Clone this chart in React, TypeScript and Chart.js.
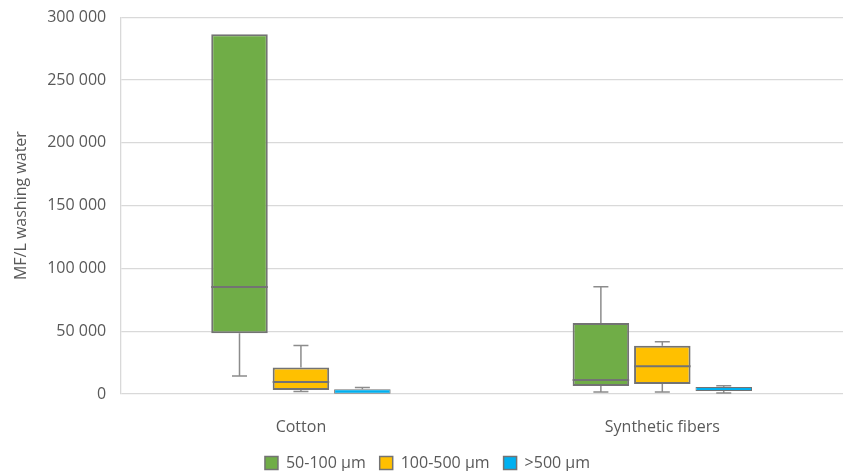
import React, { useEffect, useRef } from "react";
import { Chart, registerables } from "chart.js";

Chart.register(...registerables);

const categories = ["Cotton", "Synthetic fibers"];
const seriesNames = ["50-100 µm", "100-500 µm", ">500 µm"];
const seriesColors = ["#70AD47", "#FFC000", "#00B0F0"];

// per series: [Cotton, Synthetic fibers]
const greenMin = [14400, 1600];
const greenQ1 = [48300, 6400];
const greenMedian = [85100, 11200];
const greenQ3 = [286400, 56500];
const greenMax = [286400, 85300];

const yellowMin = [1900, 1600];
const yellowQ1 = [3200, 8000];
const yellowMedian = [9600, 22100];
const yellowQ3 = [21100, 38400];
const yellowMax = [38700, 41600];

const blueMin = [0, 800];
const blueQ1 = [100, 2400];
const blueMedian = [1500, 3600];
const blueQ3 = [3800, 5600];
const blueMax = [5100, 6600];

const yTicks = [0, 50000, 100000, 150000, 200000, 250000, 300000];

const stats = [
  { min: greenMin, q1: greenQ1, med: greenMedian, q3: greenQ3, max: greenMax },
  { min: yellowMin, q1: yellowQ1, med: yellowMedian, q3: yellowQ3, max: yellowMax },
  { min: blueMin, q1: blueQ1, med: blueMedian, q3: blueQ3, max: blueMax },
];

const FONT = "'Open Sans', sans-serif";
const TEXT = "#595959";
const LINE = "#737373";

const whiskerPlugin = {
  id: "whiskers",
  afterDatasetsDraw(chart: any) {
    const ctx = chart.ctx;
    const y = chart.scales.y;
    ctx.save();
    chart.data.datasets.forEach((ds: any, di: number) => {
      const meta = chart.getDatasetMeta(di);
      if (meta.hidden) return;
      const s = stats[di];
      meta.data.forEach((bar: any, i: number) => {
        const { x, width } = bar.getProps(["x", "width"], true);
        const pMin = y.getPixelForValue(s.min[i]);
        const pQ1 = y.getPixelForValue(s.q1[i]);
        const pMed = y.getPixelForValue(s.med[i]);
        const pQ3 = y.getPixelForValue(s.q3[i]);
        const pMax = y.getPixelForValue(s.max[i]);
        const cap = 15;
        ctx.strokeStyle = LINE;
        ctx.lineWidth = 2;
        if (pQ1 - pQ3 > 6) {
          ctx.beginPath();
          ctx.moveTo(x - width / 2, pMed);
          ctx.lineTo(x + width / 2, pMed);
          ctx.stroke();
        }
        ctx.lineWidth = 1.5;
        ctx.strokeStyle = "#8C8C8C";
        ctx.beginPath();
        if (pMax < pQ3 - 0.5) {
          ctx.moveTo(x, pQ3);
          ctx.lineTo(x, pMax);
          ctx.moveTo(x - cap / 2, pMax);
          ctx.lineTo(x + cap / 2, pMax);
        }
        if (pMin > pQ1 + 0.5) {
          ctx.moveTo(x, pQ1);
          ctx.lineTo(x, pMin);
          ctx.moveTo(x - cap / 2, pMin);
          ctx.lineTo(x + cap / 2, pMin);
        }
        ctx.stroke();
      });
    });
    ctx.restore();
  },
};

export default function App() {
  const ref = useRef<HTMLCanvasElement | null>(null);
  useEffect(() => {
    document.body.style.margin = "0";
    const canvas = ref.current;
    if (!canvas) return;
    const chart = new Chart(canvas, {
      type: "bar",
      data: {
        labels: categories,
        datasets: seriesNames.map((name, di) => ({
          label: name,
          data: categories.map((_, i) => [stats[di].q1[i], stats[di].q3[i]]),
          backgroundColor: seriesColors[di],
          borderColor: LINE,
          borderWidth: di === 2 ? 1 : 2,
          borderSkipped: false,
          barPercentage: 0.92,
          categoryPercentage: 0.51,
        })),
      },
      options: {
        animation: false,
        responsive: false,
        maintainAspectRatio: false,
        layout: { padding: { top: 0, right: 0, left: 12, bottom: -10 } },
        plugins: {
          tooltip: { enabled: false },
          legend: {
            position: "bottom",
            labels: {
              font: { family: FONT, size: 16 },
              color: TEXT,
              boxWidth: 13,
              boxHeight: 13,
              padding: 14,
              generateLabels: (chart: any) =>
                chart.data.datasets.map((ds: any, i: number) => ({
                  text: ds.label,
                  fillStyle: ds.backgroundColor,
                  strokeStyle: LINE,
                  lineWidth: 1.5,
                  fontColor: TEXT,
                  hidden: false,
                  datasetIndex: i,
                })),
            },
          },
        },
        scales: {
          x: {
            grid: { display: false },
            border: { display: false },
            ticks: { font: { family: FONT, size: 16 }, color: TEXT, padding: 16 },
            afterFit: (scale: any) => {
              scale.height = 47;
            },
          },
          y: {
            min: 0,
            max: 300000,
            afterBuildTicks: (axis: any) => {
              axis.ticks = yTicks.map((v) => ({ value: v }));
            },
            grid: { color: "#D9D9D9", lineWidth: 1.3, drawTicks: false },
            border: { display: true, color: "#D9D9D9", width: 1.3 },
            ticks: {
              font: { family: FONT, size: 16, lineHeight: 0.4 },
              color: TEXT,
              padding: 14,
              callback: (v: any) => Number(v).toLocaleString("en-US").replace(/,/g, " "),
            },
            title: {
              display: true,
              text: "MF/L washing water",
              font: { family: FONT, size: 16 },
              color: TEXT,
              padding: { top: 0, bottom: 2 },
            },
          },
        },
      },
      plugins: [whiskerPlugin],
    });
    return () => chart.destroy();
  }, []);
  return (
    <div style={{ width: 843, height: 471 }}>
      <canvas ref={ref} width={843} height={471} style={{ width: 843, height: 471 }} />
    </div>
  );
}
